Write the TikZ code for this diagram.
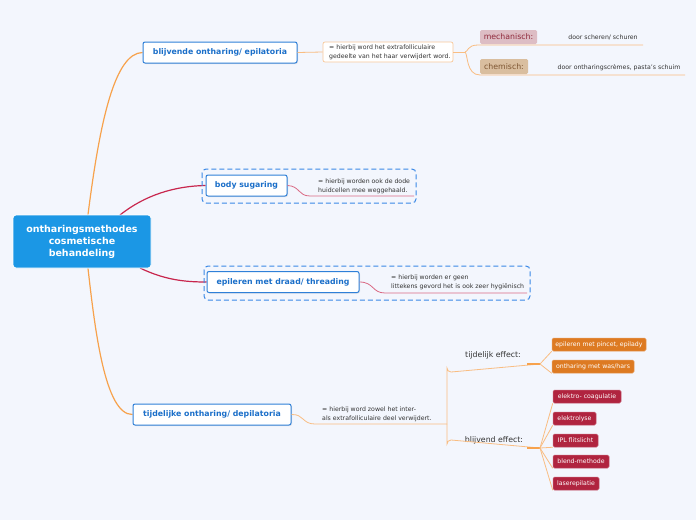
\documentclass[tikz,border=0pt]{standalone}
\usepackage{fontspec}
\setmainfont{DejaVu Sans}
\usetikzlibrary{calc,backgrounds,shadows}
\definecolor{bg}{HTML}{F3F6FD}
\definecolor{centerblue}{HTML}{1B97E5}
\definecolor{topicblue}{HTML}{2F80D8}
\definecolor{topictext}{HTML}{1B6FC9}
\definecolor{dashblue}{HTML}{3A88E6}
\definecolor{brorange}{HTML}{F7A24C}
\definecolor{thinorange}{HTML}{F9BD82}
\definecolor{brred}{HTML}{C8264D}
\definecolor{thinred}{HTML}{DA6A84}
\definecolor{notegray}{HTML}{333333}
\definecolor{noteborder}{HTML}{F8C89A}
\definecolor{mechfill}{HTML}{DDBDC4}
\definecolor{mechtext}{HTML}{8F2A3C}
\definecolor{chemfill}{HTML}{D9BE9F}
\definecolor{chemtext}{HTML}{7D5531}
\definecolor{orangebox}{HTML}{DD7A22}
\definecolor{redbox}{HTML}{B0243F}
\begin{document}
\begin{tikzpicture}[x=1pt,y=-1pt,
  centernode/.style={fill=centerblue, draw=white, line width=0.8pt, rounded corners=3pt,
    text=white, font=\fontsize{9.5}{12}\selectfont\bfseries, align=center, inner sep=0pt,
    minimum width=138pt, minimum height=53pt},
  topic/.style={draw=topicblue, line width=1pt, fill=white, rounded corners=2pt,
    text=topictext, font=\fontsize{7.8}{9}\selectfont\bfseries, inner sep=0pt,
    minimum height=21pt, drop shadow={opacity=0.18, shadow xshift=1pt, shadow yshift=-1pt}},
  note/.style={font=\fontsize{6.2}{8.6}\selectfont, text=notegray, align=left, inner sep=0pt},
  notebox/.style={draw=noteborder, line width=0.7pt, fill=white, rounded corners=2pt, inner sep=0pt},
  label/.style={font=\fontsize{7.8}{9}\selectfont, text=notegray, inner sep=0pt},
  mechbox/.style={fill=mechfill, rounded corners=1.5pt, text=mechtext,
    font=\fontsize{7.8}{9}\selectfont, inner sep=0pt, minimum height=14pt},
  chembox/.style={fill=chemfill, rounded corners=1.5pt, text=chemtext,
    font=\fontsize{7.8}{9}\selectfont, inner sep=0pt, minimum height=15pt},
  obox/.style={fill=orangebox, draw=orangebox!75!white, line width=0.5pt, rounded corners=1.5pt,
    text=white, font=\fontsize{6.2}{7}\selectfont, inner sep=0pt, minimum height=13pt},
  rbox/.style={fill=redbox, draw=redbox!75!white, line width=0.5pt, rounded corners=1.5pt,
    text=white, font=\fontsize{6.2}{7}\selectfont, inner sep=0pt, minimum height=13pt},
  dashframe/.style={draw=dashblue, line width=1pt, dash pattern=on 5pt off 3pt, rounded corners=4pt},
  mainorange/.style={draw=brorange, line width=1.2pt},
  mainred/.style={draw=brred, line width=1.2pt},
  subo/.style={draw=thinorange, line width=0.8pt},
  subr/.style={draw=thinred, line width=0.8pt}
]
\useasboundingbox (0,0) rectangle (696,520);

% frames
\draw[dashframe] (202,169) rectangle (416,203);
\draw[dashframe] (204,266) rectangle (530,300);

% center
\node[centernode] (c) at (82,241.5) {ontharingsmethodes\\cosmetische\\behandeling};

% main topics
\node[topic, minimum width=154pt] (b1) at (220,52.5) {blijvende ontharing/ epilatoria};
\node[topic, minimum width=81pt] (b2) at (246.5,185.5) {body sugaring};
\node[topic, minimum width=152pt] (b3) at (283,282) {epileren met draad/ threading};
\node[topic, minimum width=158pt] (b4) at (212,414.5) {tijdelijke ontharing/ depilatoria};

% notes
\node[notebox, minimum width=130pt, minimum height=20pt] (n1box) at (388,52) {};
\node[note, anchor=west] (n1) at (329,52.5) {= hierbij word het extrafolliculaire\\gedeelte van het haar verwijdert word.};
\node[note, anchor=west] (n2) at (318,186) {= hierbij worden ook de dode\\huidcellen mee weggehaald.};
\node[note, anchor=west] (n3) at (391,282) {= hierbij worden er geen\\littekens gevord het is ook zeer hygiënisch};
\node[note, anchor=west] (n4) at (322,414) {= hierbij word zowel het inter-\\als extrafolliculaire deel verwijdert.};

% mechanisch / chemisch
\node[mechbox, minimum width=57pt] (mech) at (508.5,37) {mechanisch:};
\node[chembox, minimum width=48pt] (chem) at (504,66.5) {chemisch:};
\node[note] (mecht) at (603,37.5) {door scheren/ schuren};
\node[note] (chemt) at (619,67.5) {door ontharingscrèmes, pasta's schuim};

% effect labels
\node[label] (te) at (493,355) {tijdelijk effect:};
\node[label] (be) at (494,440) {blijvend effect:};

% orange boxes
\node[obox, minimum width=94pt] (o1) at (599,344.5) {epileren met pincet, epilady};
\node[obox, minimum width=82pt] (o2) at (593,366.5) {ontharing met was/hars};

% red boxes
\node[rbox, minimum width=68pt] (r1) at (587,396.5) {elektro- coagulatie};
\node[rbox, minimum width=43pt] (r2) at (574.5,418.5) {elektrolyse};
\node[rbox, minimum width=45pt] (r3) at (575.5,440.5) {IPL flitslicht};
\node[rbox, minimum width=56pt] (r4) at (581,461.5) {blend-methode};
\node[rbox, minimum width=46pt] (r5) at (576,483.5) {laserepilatie};

% coordinates for connector ends
\coordinate (j1) at (465,52);
\coordinate (mechend) at (643,45);
\coordinate (chemend) at (685,75);
\coordinate (u2a) at (310,196);
\coordinate (u2b) at (414,196);
\coordinate (u3a) at (385,293);
\coordinate (u3b) at (527,293);
\coordinate (u4a) at (315,424);
\coordinate (split) at (447,424);
\coordinate (tee) at (540,364);
\coordinate (bee) at (540,448);

\begin{scope}[on background layer]
\fill[bg] (0,0) rectangle (696,520);
% main branches
\draw[mainorange] ([xshift=6pt]c.north) .. controls (100,120) and (115,53) .. (b1.west);
\draw[mainorange] ([xshift=6pt]c.south) .. controls (95,330) and (105,415) .. (b4.west);
\draw[mainred] (120,215) .. controls (145,195) and (175,186) .. (b2.west);
\draw[mainred] (140,268) .. controls (165,280) and (185,282) .. (b3.west);
\end{scope}

% blijvende branch
\draw[subo] (b1.east) -- (n1box.west);
\draw[subo] (n1box.east) -- (j1);
\draw[subo] (j1) .. controls (468,52) and (467,45) .. (478,45) -- (mechend);
\draw[subo] (j1) .. controls (468,54) and (466,75) .. (480,75) -- (chemend);

% body sugaring
\draw[subr] (b2.east) .. controls (300,186) and (298,196) .. (u2a) -- (u2b);
% threading
\draw[subr] (b3.east) .. controls (374,282) and (372,293) .. (u3a) -- (u3b);
% tijdelijke
\draw[subo] (b4.east) .. controls (304,414) and (302,424) .. (u4a) -- (split);
\draw[subo] (split) -- (447,368) arc[start angle=180, end angle=270, radius=4pt] -- (tee);
\draw[subo] (split) -- (447,444) arc[start angle=180, end angle=90, radius=4pt] -- (bee);
\draw[brorange, line width=1.1pt] (527,364) -- (tee);
\draw[brorange, line width=1.1pt] (527,448) -- (bee);

% fans
\draw[subo] (tee) -- (o1.south west);
\draw[subo] (tee) -- (o2.south west);
\foreach \r in {r1,r2,r3,r4,r5} {\draw[subo] (bee) -- (\r.south west);}
\end{tikzpicture}
\end{document}
